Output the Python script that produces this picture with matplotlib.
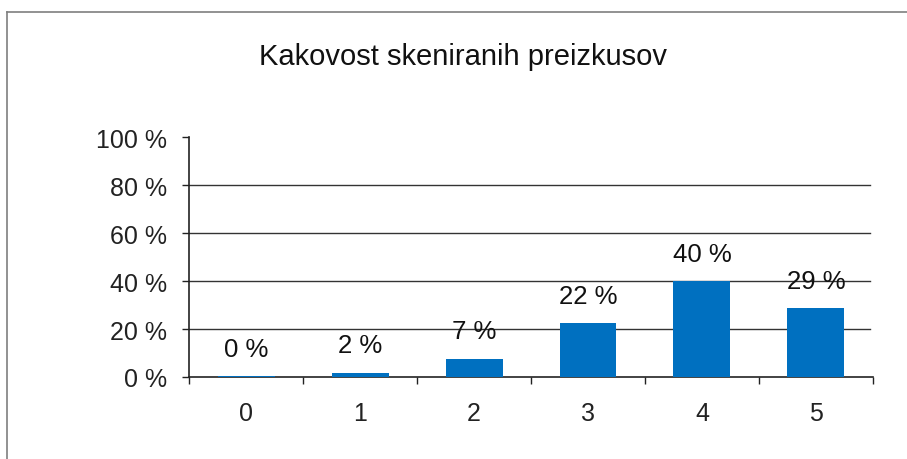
#import libraries
import matplotlib
matplotlib.use("Agg")
import matplotlib.pyplot as plt
from matplotlib.lines import Line2D

# data
grades = ["0", "1", "2", "3", "4", "5"]
shares = [0.5, 1.8, 7.7, 22.4, 40.0, 28.8]
share_labels = ["0 %", "2 %", "7 %", "22 %", "40 %", "29 %"]
y_ticks = [0, 20, 40, 60, 80, 100]
title = "Kakovost skeniranih preizkusov"

plt.rcParams['font.family'] = ['Liberation Sans', 'DejaVu Sans']

fig = plt.figure(figsize=(9.07, 4.6), dpi=100)
ax = fig.add_axes([0.2084, 0.1783, 0.9625 - 0.2084, 0.699 - 0.1783])

pos = list(range(len(grades)))
bars = ax.bar(pos, shares, width=0.5, color="#0070C0", zorder=3)

# value labels above bars
for p, v, lab in zip(pos, shares, share_labels):
    ax.annotate(lab, (p, v), xytext=(0, 11), textcoords="offset points",
                ha="center", va="bottom", fontsize=18.5, color="#111111")

ax.set_xlim(-0.5, len(grades) - 0.5)
ax.set_ylim(0, 100)

# y axis
ax.set_yticks(y_ticks)
ax.set_yticklabels([f"{t} %" for t in y_ticks], fontsize=18)
ax.tick_params(axis="y", direction="out", length=5, width=1, pad=11, colors="#222222")
for t in y_ticks[1:-1]:
    ax.axhline(t, color="#333333", lw=1, zorder=1, xmax=0.996)

# x axis: ticks at boundaries, labels in the middle
ax.set_xticks([p - 0.5 for p in pos] + [len(grades) - 0.5])
ax.set_xticklabels([])
ax.set_xticks(pos, minor=True)
ax.set_xticklabels(grades, minor=True, fontsize=18)
ax.tick_params(axis="x", which="major", direction="out", length=5, width=1, colors="#222222")
ax.tick_params(axis="x", which="minor", length=0, pad=17, colors="#222222")

for s in ["top", "right"]:
    ax.spines[s].set_visible(False)
for s in ["left", "bottom"]:
    ax.spines[s].set_color("#222222")
    ax.spines[s].set_linewidth(1.2)

fig.text(463 / 907, 1 - 57 / 460, title, ha="center", va="center", fontsize=21, color="#111111")

# outer frame of the chart area
fig.add_artist(Line2D([7 / 907, 1], [1 - 12.5 / 460] * 2, color="#7f7f7f", lw=1.2, transform=fig.transFigure))
fig.add_artist(Line2D([7 / 907] * 2, [0, 1 - 12.5 / 460], color="#7f7f7f", lw=1.2, transform=fig.transFigure))

fig.savefig("out.png", dpi=100)
